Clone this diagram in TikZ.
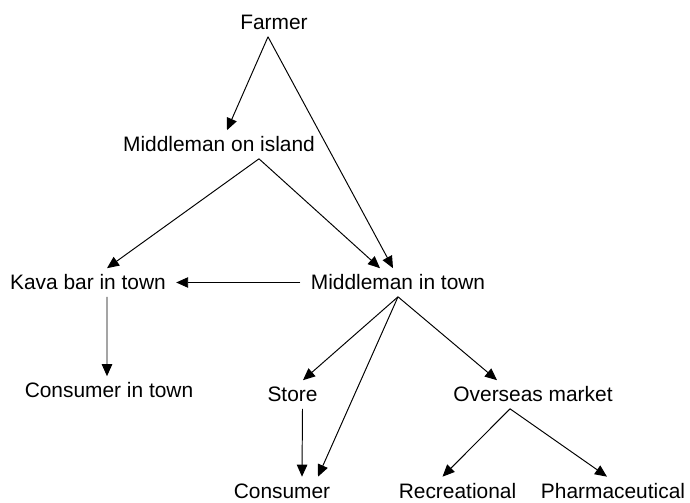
\documentclass[tikz,border=0pt]{standalone}
\usepackage{fontspec}
\setmainfont{Liberation Sans}
\usetikzlibrary{arrows.meta}

\begin{document}
\begin{tikzpicture}[x=0.02cm,y=-0.02cm,
  lab/.style={font=\fontsize{11.9}{14}\selectfont, text height=8.5pt, text depth=0pt,
    inner xsep=0.2cm, inner ysep=0.13cm},
  arr/.style={line width=0.55pt, -{Triangle[length=0.24cm,width=0.21cm]}}]
\useasboundingbox (0,0) rectangle (690,503);
% the places
\node[lab] (farmer)   at (274,22.5) {Farmer};
\node[lab] (island)   at (219,144.5) {Middleman on island};
\node[lab] (kava)     at (88,282.5) {Kava bar in town};
\node[lab] (mtown)    at (398,282.5) {Middleman in town};
\node[lab] (ctown)    at (109,390.5) {Consumer in town};
\node[lab] (store)    at (292.5,394.5) {Store};
\node[lab] (overseas) at (533,394.5) {Overseas market};
\node[lab] (consumer) at (282,491) {Consumer};
\node[lab] (recre)    at (457.5,491) {Recreational};
\node[lab] (pharma)   at (613,491) {Pharmaceutical};
% the trade
\draw[arr] ([xshift=-0.12cm]farmer.south) -- ([xshift=0.16cm]island.north);
\draw[arr] ([xshift=-0.12cm]farmer.south) -- ([xshift=-0.1cm]mtown.north);
\foreach \t/\dx in {kava/0.38cm,mtown/-0.36cm}
  \draw[arr] ([xshift=0.8cm]island.south) -- ([xshift=\dx]\t.north);
\draw[arr] (mtown.west) -- (kava.east);
\draw[arr] ([xshift=0.38cm]kava.south) -- ([xshift=-0.04cm]ctown.north);
\draw[arr] (mtown.south) -- ([xshift=0.21cm]store.north);
\draw[arr] (mtown.south) -- ([xshift=0.72cm]consumer.north);
\draw[arr] (mtown.south) -- ([xshift=-0.72cm]overseas.north);
\draw[arr] ([xshift=0.2cm]store.south) -- ([xshift=0.4cm]consumer.north);
\foreach \t/\dx in {recre/-0.3cm,pharma/-0.12cm}
  \draw[arr] ([xshift=-0.46cm]overseas.south) -- ([xshift=\dx]\t.north);
\end{tikzpicture}
\end{document}
